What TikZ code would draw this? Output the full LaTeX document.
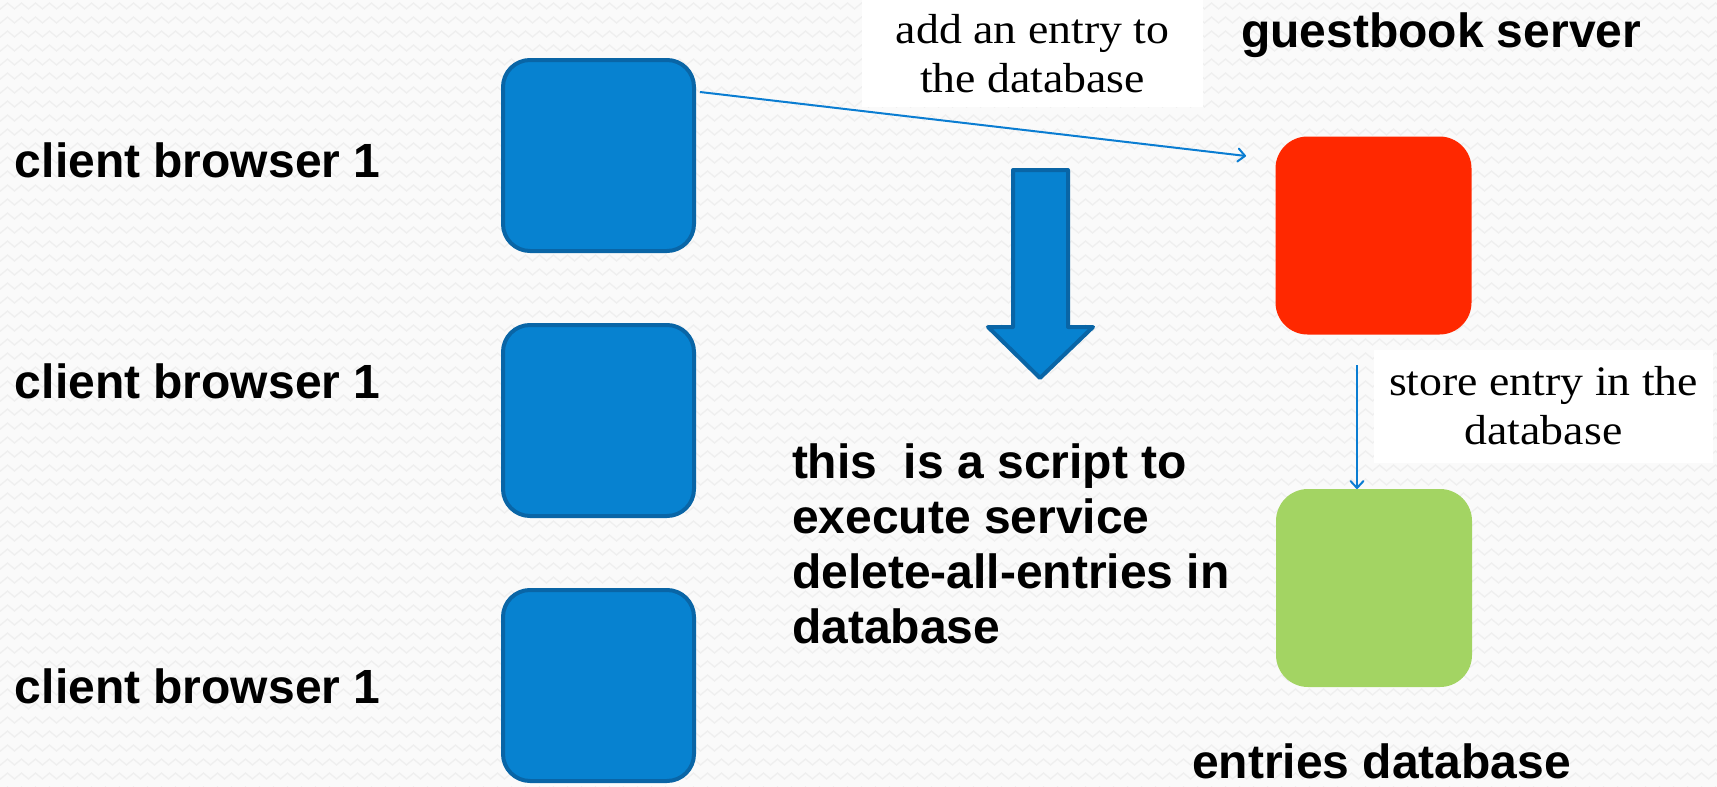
\documentclass[tikz,border=0pt]{standalone}
\usepackage{fontspec}
\setmainfont{Liberation Sans}
\newfontfamily\notefont[FakeStretch=1.09]{Liberation Serif}
\usetikzlibrary{arrows.meta,decorations.pathmorphing,calc}

\definecolor{paper}{HTML}{FAFAFA}
\definecolor{weave}{HTML}{EFEFEF}
\definecolor{clientfill}{RGB}{7,130,208}
\definecolor{clientedge}{RGB}{9,101,166}
\definecolor{serverfill}{RGB}{255,40,0}
\definecolor{dbfill}{RGB}{163,212,99}
\definecolor{linkblue}{RGB}{10,125,210}

\begin{document}
\begin{tikzpicture}[x=1pt,y=-1pt,
  client/.style={draw=clientedge, line width=4pt, fill=clientfill,
    rounded corners=27pt, minimum width=191pt, minimum height=191pt,
    inner sep=0pt, outer sep=0pt},
  tile/.style={fill=#1, rounded corners=32pt, minimum width=196pt,
    minimum height=198pt, inner sep=0pt, outer sep=0pt},
  big/.style={font=\bfseries\fontsize{48}{55}\selectfont, inner sep=0pt,
    outer sep=0pt, text=black},
  note/.style={fill=white, inner sep=0pt, outer sep=0pt, align=center,
    font=\notefont\fontsize{42}{49}\selectfont, text=black},
  link/.style={draw=linkblue, line width=2pt,
    -{Straight Barb[length=7pt,width=13pt,line cap=round,line join=round]}},
  blockarrow/.style={draw=clientedge, fill=clientfill, line width=4pt,
    line join=round}
]
\useasboundingbox (0,0) rectangle (1717,787);

% textured paper background
\begin{scope}
  \clip (0,0) rectangle (1717,787);
  \fill[paper] (0,0) rectangle (1717,787);
  \foreach \r in {0,...,56}{
    \draw[weave, line width=1.3pt, decorate,
      decoration={zigzag, segment length=14pt, amplitude=3pt}]
      (-10,\r*14+6) -- (1740,\r*14+6);
  }
\end{scope}

% client browsers
\node[client] (c1) at (598.5,155.5) {};
\node[client] (c2) at (598.5,420.5) {};
\node[client] (c3) at (598.5,685.5) {};

\node[big, anchor=base west] (cb1) at (15,177) {client browser 1};
\node[big, anchor=base west] (cb2) at (15,398) {client browser 1};
\node[big, anchor=base west] (cb3) at (15,703) {client browser 1};

% server and database
\node[tile=serverfill] (srv) at (1373.5,235.5) {};
\node[tile=dbfill] (db) at (1374,588) {};

\node[big, anchor=base west] (srvlbl) at (1241,47) {guestbook server};
\node[big, anchor=base west] (dblbl) at (1192,778) {entries database};

% script note with its block arrow
\draw[blockarrow] (1013,170) -- (1068,170) -- (1068,327) -- (1093,327)
  -- (1040,378) -- (988,327) -- (1013,327) -- cycle;
\node[big, anchor=base west, align=left] (script) at (792,643)
  {this\ \ is a script to\\execute service\\delete-all-entries in\\database};

% request arrows and their captions
\node[note, minimum width=341pt, minimum height=107pt] (addnote)
  at (1032.5,53.5) {add an entry to\\the database};
\node[note, minimum width=339pt, minimum height=113pt] (storenote)
  at (1543.5,406) {store entry in the\\database};

\coordinate (addfrom) at (700,92);
\coordinate (addto) at (1246,156);
\draw[link] (addfrom) -- (addto);

\coordinate (storefrom) at (1357,365);
\draw[link] (storefrom) -- (storefrom |- db.north);
\end{tikzpicture}
\end{document}
